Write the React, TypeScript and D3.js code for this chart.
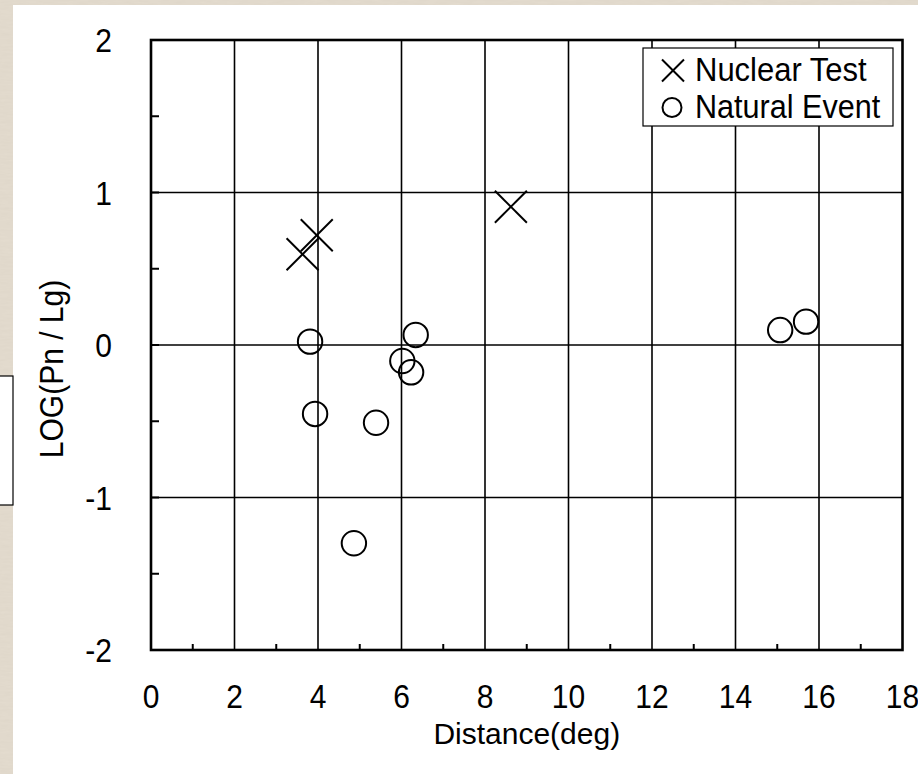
import React from "react";
import * as d3 from "d3";

const nuclearX = [3.97, 3.63, 8.62];
const nuclearY = [0.72, 0.595, 0.907];
const naturalX = [3.81, 6.34, 6.02, 6.23, 3.93, 5.39, 4.86, 15.07, 15.69];
const naturalY = [0.022, 0.066, -0.105, -0.179, -0.452, -0.51, -1.3, 0.098, 0.153];
const xTicks = [0, 2, 4, 6, 8, 10, 12, 14, 16, 18];
const xMinor = [1, 3, 5, 7, 9, 11, 13, 15, 17];
const yTicks = [-2, -1, 0, 1, 2];
const yMinor = [-1.5, -0.5, 0.5, 1.5];
const legendLabels = ["Nuclear Test", "Natural Event"];
const xTitle = "Distance(deg)";
const yTitle = "LOG(Pn / Lg)";

const W = 918;
const H = 774;
const FONT = "'Liberation Sans', Arial, Helvetica, sans-serif";

function T(props: { x: number; y: number; anchor?: string; size?: number; sy?: number; rot?: boolean; children: string }) {
  const { x, y, anchor = "start", size = 30, sy = 1.08, rot = false, children } = props;
  const tf = rot
    ? `translate(${x},${y}) rotate(-90) scale(1,${sy})`
    : `translate(${x},${y}) scale(1,${sy})`;
  return (
    <text transform={tf} x={0} y={0} textAnchor={anchor} fontSize={size} fill="#000">
      {children}
    </text>
  );
}

export default function App() {
  const x = d3.scaleLinear().domain([0, 18]).range([151, 902.5]);
  const y = d3.scaleLinear().domain([-2, 2]).range([650, 40]);
  const [x0, x1] = x.range();
  const [yb, yt] = y.range();

  const nuclear = nuclearX.map((v, i) => [v, nuclearY[i]]);
  const natural = naturalX.map((v, i) => [v, naturalY[i]]);

  const cross = (cx: number, cy: number, s: number, key: string) => (
    <g key={key} stroke="#000" strokeWidth={2} fill="none">
      <line x1={cx - s} y1={cy - s} x2={cx + s} y2={cy + s} />
      <line x1={cx - s} y1={cy + s} x2={cx + s} y2={cy - s} />
    </g>
  );

  return (
    <svg
      width={W}
      height={H}
      style={{ position: "absolute", left: 0, top: 0, display: "block" }}
      fontFamily={FONT}
    >
      <defs>
        <filter id="paper" x="0" y="0" width="100%" height="100%">
          <feTurbulence type="fractalNoise" baseFrequency="0.08 0.5" numOctaves={2} seed={3} />
          <feColorMatrix
            type="matrix"
            values="0 0 0 0 0.55  0 0 0 0 0.5  0 0 0 0 0.42  0 0 0 0.18 0"
          />
        </filter>
      </defs>
      <rect x={0} y={0} width={W} height={H} fill="#e4dccf" />
      <rect x={0} y={0} width={W} height={H} filter="url(#paper)" />
      <rect x={13} y={5} width={W - 13} height={H - 5} fill="#fff" />
      <rect x={-10} y={376} width={23} height={129} fill="#fff" stroke="#000" strokeWidth={1.2} />

      {/* grid */}
      <g stroke="#000" strokeWidth={1.6}>
        {xTicks.slice(1, -1).map((t) => (
          <line key={"gx" + t} x1={x(t)} x2={x(t)} y1={yt} y2={yb} />
        ))}
        {yTicks.slice(1, -1).map((t) => (
          <line key={"gy" + t} x1={x0} x2={x1} y1={y(t)} y2={y(t)} />
        ))}
      </g>
      {/* minor ticks */}
      <g stroke="#000" strokeWidth={2}>
        {yMinor.map((t) => (
          <line key={"my" + t} x1={x0} x2={x0 + 8} y1={y(t)} y2={y(t)} />
        ))}
        {yTicks.map((t) => (
          <line key={"ty" + t} x1={x0} x2={x0 + 8} y1={y(t)} y2={y(t)} />
        ))}
        {xMinor.map((t) => (
          <line key={"mx" + t} x1={x(t)} x2={x(t)} y1={yb} y2={yb - 6} />
        ))}
      </g>
      {/* frame */}
      <rect x={x0} y={yt} width={x1 - x0} height={yb - yt} fill="none" stroke="#000" strokeWidth={2.6} />

      {/* tick labels */}
      {yTicks.map((t) => (
        <T key={"ly" + t} x={112} y={y(t) + 12} anchor="end">
          {t < 0 ? "-" + Math.abs(t) : String(t)}
        </T>
      ))}
      {xTicks.map((t) => (
        <T key={"lx" + t} x={x(t)} y={708} anchor="middle">
          {String(t)}
        </T>
      ))}
      <T x={(x0 + x1) / 2} y={744} anchor="middle" sy={1}>
        {xTitle}
      </T>
      <T x={63} y={369} anchor="middle" rot>
        {yTitle}
      </T>

      {/* data */}
      {nuclear.map((d, i) => cross(x(d[0]), y(d[1]), 16, "n" + i))}
      {natural.map((d, i) => (
        <circle key={"c" + i} cx={x(d[0])} cy={y(d[1])} r={12.2} fill="none" stroke="#000" strokeWidth={2} />
      ))}

      {/* legend */}
      <rect x={643} y={48} width={250} height={78} fill="#fff" stroke="#000" strokeWidth={1.2} />
      {cross(673, 70.5, 11, "leg")}
      <circle cx={672} cy={107.5} r={9.5} fill="none" stroke="#000" strokeWidth={2} />
      <T x={695} y={81} size={31}>{legendLabels[0]}</T>
      <T x={695} y={118} size={30.6}>{legendLabels[1]}</T>
    </svg>
  );
}
